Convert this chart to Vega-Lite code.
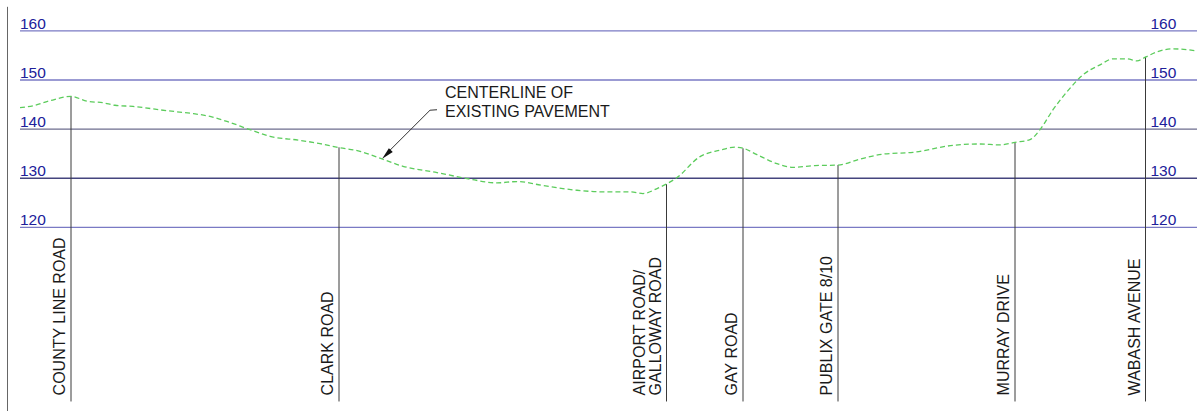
{
  "$schema": "https://vega.github.io/schema/vega-lite/v6.json",
  "width": 1202,
  "height": 412,
  "autosize": {"type": "fit", "contains": "padding"},
  "padding": 0,
  "background": "white",
  "config": {"view": {"stroke": null}, "text": {"font": "Liberation Sans"}},
  "datasets": {
    "grid": [{"elev": 120}, {"elev": 130}, {"elev": 140}, {"elev": 150}, {"elev": 160}],
    "roads": [
      {"road": "COUNTY LINE ROAD", "station": 71, "elev": 146.7, "lines": 1},
      {"road": "CLARK ROAD", "station": 339, "elev": 136.3, "lines": 1},
      {"road": "AIRPORT ROAD/\nGALLOWAY ROAD", "station": 666.5, "elev": 128.8, "lines": 2},
      {"road": "GAY ROAD", "station": 743, "elev": 136.1, "lines": 1},
      {"road": "PUBLIX GATE 8/10", "station": 838, "elev": 132.7, "lines": 1},
      {"road": "MURRAY DRIVE", "station": 1015, "elev": 137.3, "lines": 1},
      {"road": "WABASH AVENUE", "station": 1145.5, "elev": 154.7, "lines": 1}
    ],
    "profile": [
      {"station": 20, "elev": 144.36}, {"station": 33, "elev": 144.76}, {"station": 50, "elev": 145.78},
      {"station": 71, "elev": 146.69}, {"station": 87, "elev": 145.68}, {"station": 103, "elev": 145.37},
      {"station": 115, "elev": 144.86}, {"station": 133, "elev": 144.62}, {"station": 167, "elev": 143.75},
      {"station": 190, "elev": 143.24}, {"station": 210, "elev": 142.59}, {"station": 227, "elev": 141.57},
      {"station": 250, "elev": 139.89}, {"station": 270, "elev": 138.53}, {"station": 300, "elev": 137.72},
      {"station": 320, "elev": 137.05}, {"station": 338, "elev": 136.29}, {"station": 360, "elev": 135.48},
      {"station": 382, "elev": 133.94}, {"station": 403, "elev": 132.44}, {"station": 437, "elev": 131.16},
      {"station": 467, "elev": 129.94}, {"station": 497, "elev": 129.06}, {"station": 517, "elev": 129.33},
      {"station": 543, "elev": 128.52}, {"station": 577, "elev": 127.56}, {"station": 603, "elev": 127.24},
      {"station": 630, "elev": 127.24}, {"station": 643, "elev": 126.89}, {"station": 658, "elev": 128.01},
      {"station": 677, "elev": 130.14}, {"station": 700, "elev": 134.41}, {"station": 720, "elev": 135.73},
      {"station": 735, "elev": 136.33}, {"station": 743, "elev": 136.13}, {"station": 757, "elev": 134.81},
      {"station": 777, "elev": 132.98}, {"station": 793, "elev": 132.23}, {"station": 815, "elev": 132.58},
      {"station": 838, "elev": 132.68}, {"station": 860, "elev": 133.9}, {"station": 883, "elev": 134.91},
      {"station": 913, "elev": 135.28}, {"station": 953, "elev": 136.7}, {"station": 980, "elev": 136.98},
      {"station": 1000, "elev": 136.78}, {"station": 1015, "elev": 137.31}, {"station": 1030, "elev": 137.86},
      {"station": 1040, "elev": 139.89}, {"station": 1053, "elev": 143.95}, {"station": 1067, "elev": 147.61},
      {"station": 1083, "elev": 151.06}, {"station": 1100, "elev": 153.09}, {"station": 1113, "elev": 154.31},
      {"station": 1127, "elev": 154.31}, {"station": 1137, "elev": 153.9}, {"station": 1146, "elev": 154.71},
      {"station": 1157, "elev": 155.73}, {"station": 1173, "elev": 156.34}, {"station": 1197, "elev": 155.93}
    ],
    "note": [{"note": "CENTERLINE OF\nEXISTING PAVEMENT", "station": 445, "elev": 146.3}],
    "leader": [
      {"order": 1, "station": 437, "elev": 143.95},
      {"order": 2, "station": 430, "elev": 143.85},
      {"order": 3, "station": 386, "elev": 134.9}
    ],
    "arrow": [{"station": 386.5, "elev": 134.85}]
  },
  "layer": [
    {
      "data": {"name": "grid"},
      "mark": {"type": "rule", "strokeWidth": 1.3},
      "encoding": {
        "x": {"datum": 20, "type": "quantitative", "scale": {"domain": [0, 1202], "nice": false, "zero": false}, "axis": null},
        "x2": {"datum": 1197},
        "y": {"field": "elev", "type": "quantitative", "scale": {"domain": [82.62, 166.29], "nice": false, "zero": false}, "axis": null},
        "color": {"field": "elev", "type": "ordinal", "scale": {"domain": [120, 130, 140, 150, 160], "range": ["#7a7ac4", "#44447e", "#6c6c8e", "#7a7ac4", "#7a7ac4"]}, "legend": null}
      }
    },
    {
      "data": {"name": "grid"},
      "mark": {"type": "text", "align": "left", "baseline": "alphabetic", "dy": -2, "fontSize": 15.5, "color": "#20209a"},
      "encoding": {
        "x": {"datum": 20, "type": "quantitative"},
        "y": {"field": "elev", "type": "quantitative"},
        "text": {"field": "elev", "type": "quantitative"}
      }
    },
    {
      "data": {"name": "grid"},
      "mark": {"type": "text", "align": "left", "baseline": "alphabetic", "dy": -2, "fontSize": 15.5, "color": "#20209a"},
      "encoding": {
        "x": {"datum": 1150.5, "type": "quantitative"},
        "y": {"field": "elev", "type": "quantitative"},
        "text": {"field": "elev", "type": "quantitative"}
      }
    },
    {
      "data": {"values": [{"edge": "left"}]},
      "mark": {"type": "rule", "color": "#666666", "strokeWidth": 1},
      "encoding": {
        "x": {"datum": 7.5, "type": "quantitative"},
        "y": {"datum": 164.9, "type": "quantitative"},
        "y2": {"datum": 82.62}
      }
    },
    {
      "data": {"name": "roads"},
      "mark": {"type": "rule", "color": "#3a3a3a", "strokeWidth": 1},
      "encoding": {
        "x": {"field": "station", "type": "quantitative"},
        "y": {"field": "elev", "type": "quantitative"},
        "y2": {"datum": 84.56}
      }
    },
    {
      "data": {"name": "roads"},
      "transform": [{"filter": "datum.lines == 1"}],
      "mark": {"type": "text", "angle": 270, "align": "left", "baseline": "bottom", "dy": -3, "fontSize": 16, "color": "#1a1a1a"},
      "encoding": {
        "x": {"field": "station", "type": "quantitative"},
        "y": {"datum": 85.8, "type": "quantitative"},
        "text": {"field": "road", "type": "nominal"}
      }
    },
    {
      "data": {"name": "roads"},
      "transform": [{"filter": "datum.lines == 2"}],
      "mark": {"type": "text", "angle": 270, "align": "left", "baseline": "bottom", "dy": -19, "fontSize": 16, "lineHeight": 16.5, "lineBreak": "\n", "color": "#1a1a1a"},
      "encoding": {
        "x": {"field": "station", "type": "quantitative"},
        "y": {"datum": 85.8, "type": "quantitative"},
        "text": {"field": "road", "type": "nominal"}
      }
    },
    {
      "data": {"name": "profile"},
      "mark": {"type": "line", "interpolate": "monotone", "color": "#5ccc5c", "strokeWidth": 1.3, "strokeDash": [5, 3]},
      "encoding": {
        "x": {"field": "station", "type": "quantitative"},
        "y": {"field": "elev", "type": "quantitative"}
      }
    },
    {
      "data": {"name": "note"},
      "mark": {"type": "text", "align": "left", "baseline": "alphabetic", "fontSize": 16, "lineHeight": 18.5, "lineBreak": "\n", "color": "#1a1a1a"},
      "encoding": {
        "x": {"field": "station", "type": "quantitative"},
        "y": {"field": "elev", "type": "quantitative"},
        "text": {"field": "note", "type": "nominal"}
      }
    },
    {
      "data": {"name": "leader"},
      "mark": {"type": "line", "color": "#333333", "strokeWidth": 1},
      "encoding": {
        "x": {"field": "station", "type": "quantitative"},
        "y": {"field": "elev", "type": "quantitative"},
        "order": {"field": "order", "type": "quantitative"}
      }
    },
    {
      "data": {"name": "arrow"},
      "mark": {"type": "point", "shape": "M0,-1L0.45,1L-0.45,1Z", "filled": true, "color": "#111111", "opacity": 1, "size": 150, "angle": 225},
      "encoding": {
        "x": {"field": "station", "type": "quantitative"},
        "y": {"field": "elev", "type": "quantitative"}
      }
    }
  ]
}
